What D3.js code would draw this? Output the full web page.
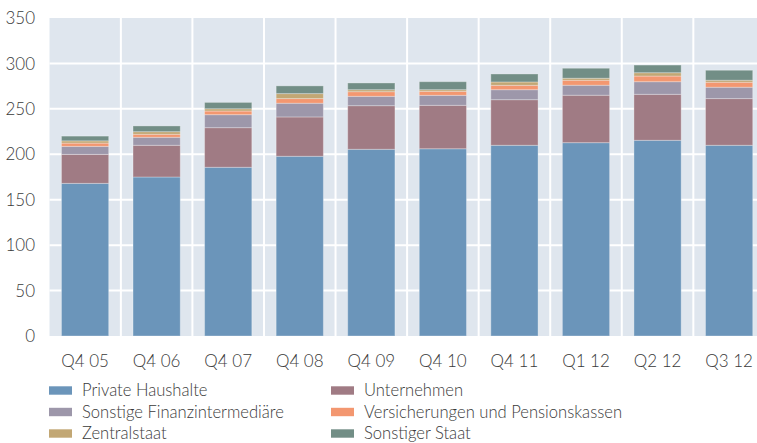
<!DOCTYPE html>
<html><head><meta charset="utf-8">
<script src="https://cdn.jsdelivr.net/npm/d3@7"></script>
<style>
html,body{margin:0;padding:0;background:#fff;}
text{font-family:"Lato","Open Sans",sans-serif;font-weight:300;fill:#3a3a3a;}
</style></head>
<body><svg id="c" width="757" height="443"></svg>
<script>
const categories = ["Q4 05","Q4 06","Q4 07","Q4 08","Q4 09","Q4 10","Q4 11","Q1 12","Q2 12","Q3 12"];
const seriesNames = ["Private Haushalte","Unternehmen","Sonstige Finanzintermediäre","Versicherungen und Pensionskassen","Zentralstaat","Sonstiger Staat"];
const privateHaushalte = [168.0,175.0,185.7,197.8,205.5,206.1,209.9,212.8,215.4,209.9];
const unternehmen      = [31.9,34.9,43.6,43.3,48.0,47.8,50.2,52.2,50.6,51.4];
const sonstigeFin      = [8.8,8.8,14.3,15.1,10.3,11.0,11.0,11.0,13.9,12.5];
const versicherungen   = [3.6,3.3,4.0,5.1,5.1,4.4,4.8,5.5,6.2,5.5];
const zentralstaat     = [2.5,2.9,2.5,5.5,2.2,1.8,3.7,2.2,3.7,2.2];
const sonstigerStaat   = [5.2,6.3,7.0,8.5,7.4,8.8,8.8,11.0,8.4,11.0];
const yTicks = [0,50,100,150,200,250,300,350];
const colors = ["#6b95ba","#a07b84","#9d97aa","#f39770","#c2a774","#728e86"];

const seriesValues = [privateHaushalte,unternehmen,sonstigeFin,versicherungen,zentralstaat,sonstigerStaat];
const rows = categories.map((c,i)=>{const r={cat:c}; seriesNames.forEach((s,k)=>r[s]=seriesValues[k][i]); return r;});
const stack = d3.stack().keys(seriesNames)(rows);

const svg = d3.select("#c");
const x = d3.scaleBand().domain(categories).range([49.3, 49.3+715.6]).paddingInner(0.34).paddingOuter(0.17);
const y = d3.scaleLinear().domain([0,350]).range([336,18]);
const xL = x.range()[0], xR = x.range()[1];
const gap = (x.step() - x.bandwidth())/2;

svg.append("defs").append("clipPath").attr("id","clip").append("rect")
  .attr("x",xL).attr("y",0).attr("width",757-xL).attr("height",443);
const plot = svg.append("g").attr("clip-path","url(#clip)");
plot.append("rect").attr("x",xL).attr("y",y(350)).attr("width",xR-xL).attr("height",y(0)-y(350)).attr("fill","#dfe6ee");

plot.selectAll("line.h").data(yTicks.filter(t=>t>0&&t<350)).join("line")
  .attr("x1",xL).attr("x2",xR).attr("y1",d=>y(d)).attr("y2",d=>y(d))
  .attr("stroke","#fff").attr("stroke-width",2);
plot.selectAll("line.v").data(categories.slice(1)).join("line")
  .attr("x1",d=>x(d)-gap).attr("x2",d=>x(d)-gap)
  .attr("y1",y(350)).attr("y2",y(0))
  .attr("stroke","#fff").attr("stroke-width",2);

plot.selectAll("g.s").data(stack).join("g").attr("fill",(d,i)=>colors[i])
  .selectAll("rect").data(d=>d).join("rect")
  .attr("x",d=>x(d.data.cat)).attr("width",x.bandwidth())
  .attr("y",d=>y(d[1])).attr("height",d=>y(d[0])-y(d[1]))
  .attr("stroke","rgba(255,255,255,0.3)").attr("stroke-width",1);

svg.selectAll("text.yt").data(yTicks).join("text")
  .attr("x",35).attr("y",d=>y(d)).attr("dy","0.36em")
  .attr("text-anchor","end").attr("font-size",17).text(d=>d);
svg.selectAll("text.xt").data(categories).join("text")
  .attr("x",d=>x(d)+x.bandwidth()/2).attr("y",366.5)
  .attr("text-anchor","middle").attr("font-size",17).text(d=>d);

const lx = [49, 331], ly0 = 390.5, ldy = 21.5;
const lg = svg.selectAll("g.lg").data(seriesNames).join("g")
  .attr("transform",(d,i)=>`translate(${lx[i%2]},${ly0 + Math.floor(i/2)*ldy})`);
lg.append("rect").attr("x",0).attr("y",-4.2).attr("width",23).attr("height",8.4).attr("fill",(d,i)=>colors[i]);
lg.append("text").attr("x",33).attr("y",0).attr("dy","0.36em").attr("font-size",16.6).text(d=>d);
</script></body></html>
